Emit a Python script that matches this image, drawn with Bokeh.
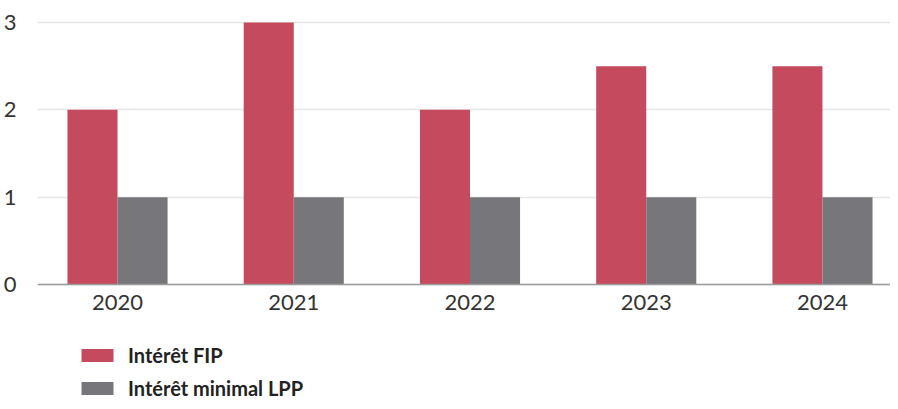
import numpy as np
from bokeh.plotting import figure
from bokeh.models import Range1d, FixedTicker, Legend, LegendItem
from bokeh.embed import file_html
from bokeh.resources import INLINE

years = ["2020", "2021", "2022", "2023", "2024"]
fip = [2.0, 3.0, 2.0, 2.5, 2.5]
lpp = [1.0, 1.0, 1.0, 1.0, 1.0]
y_ticks = [0, 1, 2, 3]
series_names = ["Intérêt FIP", "Intérêt minimal LPP"]
colors = ["#c54a5d", "#77777b"]

idx = np.arange(len(years))
bar_w = 0.284

p = figure(width=890, height=401, output_backend="svg", toolbar_location=None,
           x_range=Range1d(-0.454, 4.386), y_range=Range1d(-1.34, 3.252),
           min_border_left=37, min_border_right=0, min_border_top=0, min_border_bottom=0)
p.outline_line_color = None
p.background_fill_color = "white"
p.border_fill_color = "white"

r1 = p.vbar(x=idx - bar_w / 2, top=fip, width=bar_w, fill_color=colors[0], line_color=None)
r2 = p.vbar(x=idx + bar_w / 2, top=lpp, width=bar_w, fill_color=colors[1], line_color=None)

p.xgrid.grid_line_color = None
p.ygrid.grid_line_color = "#e6e6e6"
p.ygrid.grid_line_width = 1.5
p.ygrid.ticker = FixedTicker(ticks=y_ticks)

p.yaxis.ticker = FixedTicker(ticks=y_ticks)
p.yaxis.axis_line_color = None
p.yaxis.major_tick_line_color = None
p.yaxis.minor_tick_line_color = None
p.yaxis.major_label_standoff = 15
p.yaxis.major_label_text_font = "Lato"
p.yaxis.major_label_text_font_size = "22px"
p.yaxis.major_label_text_color = "#333333"

p.xaxis.fixed_location = 0
p.xaxis.ticker = FixedTicker(ticks=list(idx))
p.xaxis.major_label_overrides = {int(i): y for i, y in zip(idx, years)}
p.xaxis.axis_line_color = "#9a9a9a"
p.xaxis.axis_line_width = 1.5
p.xaxis.major_tick_line_color = None
p.xaxis.minor_tick_line_color = None
p.xaxis.major_label_standoff = 5
p.xaxis.major_label_text_font = "Lato"
p.xaxis.major_label_text_font_size = "22px"
p.xaxis.major_label_text_color = "#333333"

legend = Legend(items=[LegendItem(label=series_names[0], renderers=[r1]),
                       LegendItem(label=series_names[1], renderers=[r2])],
                location=(40, 1), orientation="vertical")
legend.glyph_width = 40
legend.glyph_height = 16
legend.label_height = 24
legend.label_standoff = 11
legend.spacing = 9
legend.padding = 0
legend.margin = 0
legend.border_line_color = None
legend.background_fill_alpha = 0
legend.label_text_font = "Lato"
legend.label_text_font_style = "bold"
legend.label_text_font_size = "20px"
legend.label_text_color = "#222222"
p.add_layout(legend, "center")

open("out.html", "w").write(file_html(p, INLINE))
